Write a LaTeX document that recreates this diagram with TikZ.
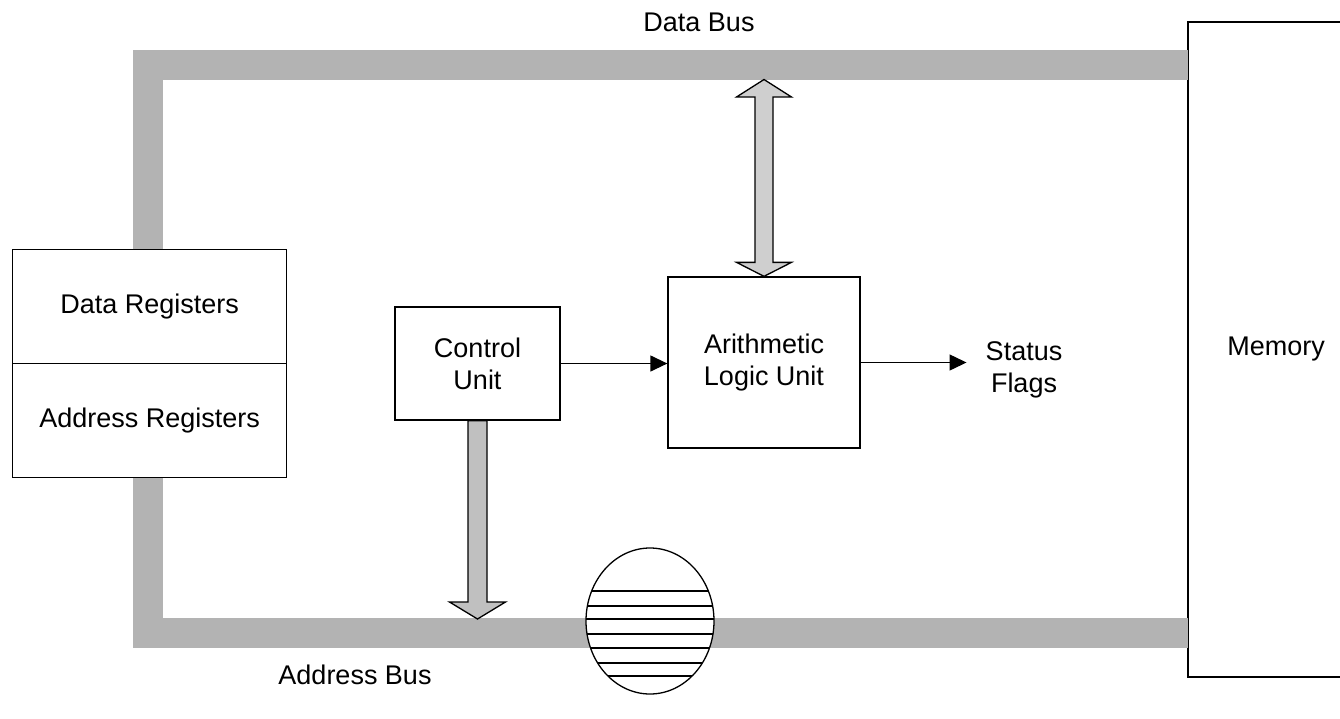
\documentclass[tikz,border=0pt]{standalone}
\usepackage{fontspec}
\setmainfont{Liberation Sans}
\usetikzlibrary{arrows.meta,shapes.geometric,calc}
\definecolor{busgray}{HTML}{B3B3B3}
\definecolor{dblgray}{HTML}{CFCFCF}
\definecolor{cugray}{HTML}{C0C0C0}
\begin{document}
\begin{tikzpicture}[x=1pt,y=-1pt,
  box/.style={draw,line width=1.3pt,fill=white,inner sep=0pt,font=\fontsize{27}{32}\selectfont,align=center},
  lbl/.style={font=\fontsize{27}{32}\selectfont,align=center,inner sep=0pt},
  bus/.style={draw=busgray,line width=30pt,line cap=butt,line join=miter},
  flow/.style={line width=1.3pt,-{Triangle[length=17pt,width=16pt]}},
  fat/.style={draw=black,line width=1.3pt,fill=#1,line join=miter}]
\useasboundingbox (0,0) rectangle (1340,718);
\fill[white] (0,0) rectangle (1340,718);

% nodes
\node[box,minimum width=274pt,minimum height=114pt,anchor=north west] (dreg) at (12,249) {Data Registers};
\node[box,minimum width=274pt,minimum height=114pt,anchor=north west] (areg) at (12,363) {Address Registers};
\node[box,minimum width=165pt,minimum height=113pt] (cu) at (477.5,363.5) {Control\\Unit};
\node[box,minimum width=192pt,minimum height=171pt] (alu) at (764,362.5) {Arithmetic\\Logic Unit};
\node[lbl] (stat) at (1024,369.5) {Status\\Flags};
\node[lbl,minimum width=176pt,minimum height=655pt] (mem) at (1276,349.5) {Memory};
\draw[line width=2pt] (mem.north east) -| (mem.south west) -- (mem.south east);
\node[lbl] (dbus) at (699,22) {Data Bus};
\node[lbl] (abus) at (355,675) {Address Bus};

% buses
\coordinate (dbusL) at (147.5,64.5);
\coordinate (abusL) at (147.5,633);
\draw[bus] (dbusL |- dreg.north) -- (dbusL) -- (dbusL -| mem.west);
\draw[bus] (abusL |- areg.south) -- (abusL) -- (abusL -| mem.west);

% disk on address bus
\node[draw,ellipse,line width=1.3pt,fill=white,minimum width=128pt,minimum height=146pt,inner sep=0pt] (disk) at (650,621) {};
\begin{scope}
  \clip (disk.center) ellipse [x radius=64pt, y radius=73pt];
  \foreach \yy in {591,606,619,634,648,663,676}
    \draw[line width=1.3pt] (560,\yy) -- (740,\yy);
\end{scope}

% double arrow between data bus and ALU
\coordinate (dtip) at (alu.north |- 0,79.5);
\draw[fat=dblgray] (dtip) -- ([shift={(27.5,17.5)}]dtip) -- ([shift={(9,17.5)}]dtip)
  -- ([shift={(9,-14)}]alu.north) -- ([shift={(27.5,-14)}]alu.north) -- (alu.north)
  -- ([shift={(-27.5,-14)}]alu.north) -- ([shift={(-9,-14)}]alu.north)
  -- ([shift={(-9,17.5)}]dtip) -- ([shift={(-27.5,17.5)}]dtip) -- cycle;

% control unit arrow down to address bus
\coordinate (ctip) at (cu.south |- 0,619);
\draw[fat=cugray] ([xshift=-9.5pt]cu.south) -- ([shift={(-9.5,-17)}]ctip) -- ([shift={(-28,-17)}]ctip)
  -- (ctip) -- ([shift={(28,-17)}]ctip) -- ([shift={(9.5,-17)}]ctip) -- ([xshift=9.5pt]cu.south) -- cycle;

% flow arrows
\draw[flow] (cu.east) -- (cu.east -| alu.west);
\draw[flow] (alu.east) -- ([xshift=-19pt]stat.west |- alu.east);
\end{tikzpicture}
\end{document}
